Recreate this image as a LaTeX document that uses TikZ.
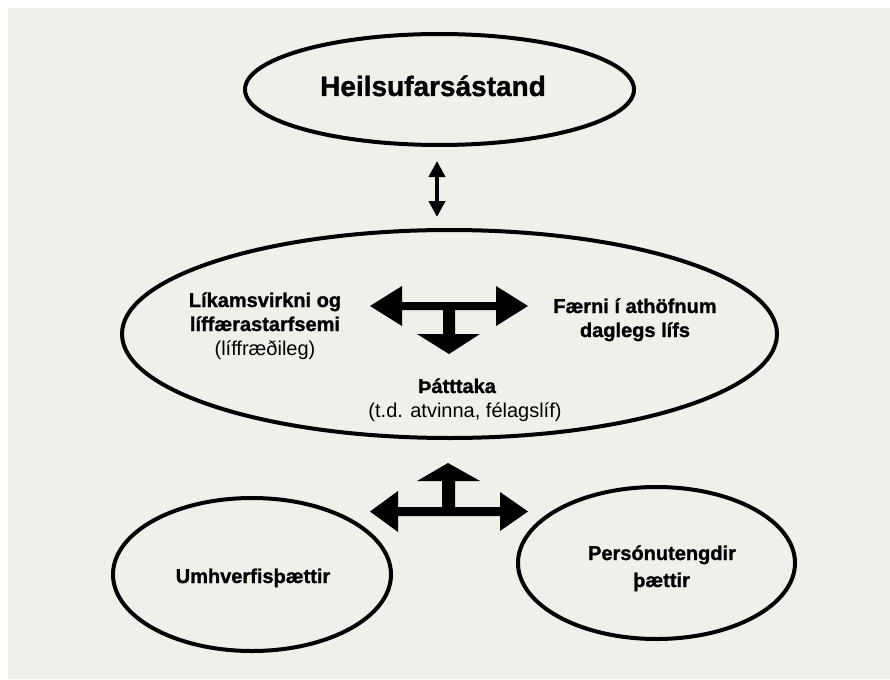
\documentclass[tikz,border=0pt]{standalone}
\usepackage{fontspec}
\setmainfont{Liberation Sans}[BoldFeatures={FakeBold=1.2}]
\usetikzlibrary{shapes.geometric,arrows.meta}
\definecolor{panel}{RGB}{239,240,234}
\begin{document}
\begin{tikzpicture}[x=1pt,y=-1pt,
  oval/.style={ellipse, draw=black, line width=4pt, inner sep=0pt},
  boldtxt/.style={font=\fontsize{20}{24}\selectfont\bfseries, anchor=base, inner sep=0pt},
  plaintxt/.style={font=\fontsize{20}{24}\selectfont, anchor=base, inner sep=0pt},
  titletxt/.style={font=\fontsize{28}{32}\selectfont\bfseries, anchor=base, inner sep=0pt},
  tarrow/.style={fill=black},
  thinarrow/.style={line width=4pt, {Triangle[width=16pt,length=16pt]}-{Triangle[width=16pt,length=16pt]}}
]
\useasboundingbox (0,0) rectangle (890,679);
\fill[white] (0,0) rectangle (890,679);
\fill[panel] (8,8) rectangle (890,679);

% ellipses
\node[oval, minimum width=389pt, minimum height=111pt] (health) at (439.5,89.5) {};
\node[oval, minimum width=655pt, minimum height=208pt] (mid) at (449.5,334) {};
\node[oval, minimum width=278pt, minimum height=153pt] (env) at (252,574.5) {};
\node[oval, minimum width=277pt, minimum height=152pt] (pers) at (656.5,563) {};

% texts
\node[titletxt] (t1) at (433,96) {Heilsufarsástand};
\node[boldtxt] (l1) at (265,307) {Líkamsvirkni og};
\node[boldtxt] (l2) at (265,331) {líffærastarfsemi};
\node[plaintxt] (l3) at (265,355) {(líffræðileg)};
\node[boldtxt] (r1) at (635,313) {Færni í athöfnum};
\node[boldtxt] (r2) at (635,337) {daglegs lífs};
\node[boldtxt] (p1) at (457,393) {Þátttaka};
\node[plaintxt] (p2) at (465,417) {(t.d. atvinna, félagslíf)};
\node[boldtxt] (e1) at (253,583) {Umhverfisþættir};
\node[boldtxt] (q1) at (662,560) {Persónutengdir};
\node[boldtxt] (q2) at (661.5,587) {þættir};

% double arrow between top and middle
\coordinate (ax) at (437,0);
\draw[thinarrow, shorten <=14pt, shorten >=11pt] (ax |- health.south) -- (ax |- mid.north);

% T arrow inside the middle ellipse
\fill[tarrow] (370,306) -- (402,286) -- (402,302) -- (496,302) -- (496,286) -- (528,306)
  -- (496,326) -- (496,310) -- (455,310) -- (455,334) -- (480,334) -- (449,354)
  -- (417,334) -- (443,334) -- (443,310) -- (402,310) -- (402,326) -- cycle;

% T arrow below the middle ellipse
\fill[tarrow] (448,463) -- (480,481) -- (455,481) -- (455,507) -- (500,507) -- (500,492)
  -- (528,511.5) -- (500,531) -- (500,516) -- (398,516) -- (398,532) -- (370,511.5)
  -- (398,491) -- (398,507) -- (442,507) -- (442,481) -- (417,481) -- cycle;
\end{tikzpicture}
\end{document}
